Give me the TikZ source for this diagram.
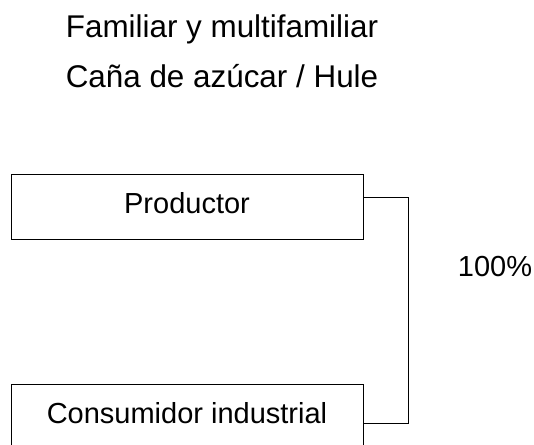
\documentclass[tikz,border=0pt]{standalone}
\usepackage{fontspec}
\setmainfont{Liberation Sans}

\begin{document}
\begin{tikzpicture}[x=1pt, y=-1pt,
  every node/.style = {font=\fontsize{29pt}{34pt}\selectfont, inner sep=0pt},
  titulo/.style = {anchor=base, font=\fontsize{31.4pt}{36pt}\selectfont},
  etapa/.style = {shape=rectangle, draw, line width=1pt,
    minimum width=352pt, minimum height=65pt,
    text height=20pt, text depth=7pt}]
  \useasboundingbox (0,0) rectangle (534,444);
  \node[titulo] (tit1) at (222,37.5) {Familiar y multifamiliar};
  \node[titulo] (tit2) at (222,87.5) {Caña de azúcar / Hule};
  \node[etapa] (prod) at (187,206.5) {Productor};
  \node[etapa] (cons) at (187,416.5) {Consumidor industrial};
  \node[anchor=base] (pct) at (495,276) {100\%};
  \draw[line width=1pt] ([yshift=9.5pt]prod.east) -- ++(45,0) |- ([yshift=-6.5pt]cons.east);
\end{tikzpicture}
\end{document}
